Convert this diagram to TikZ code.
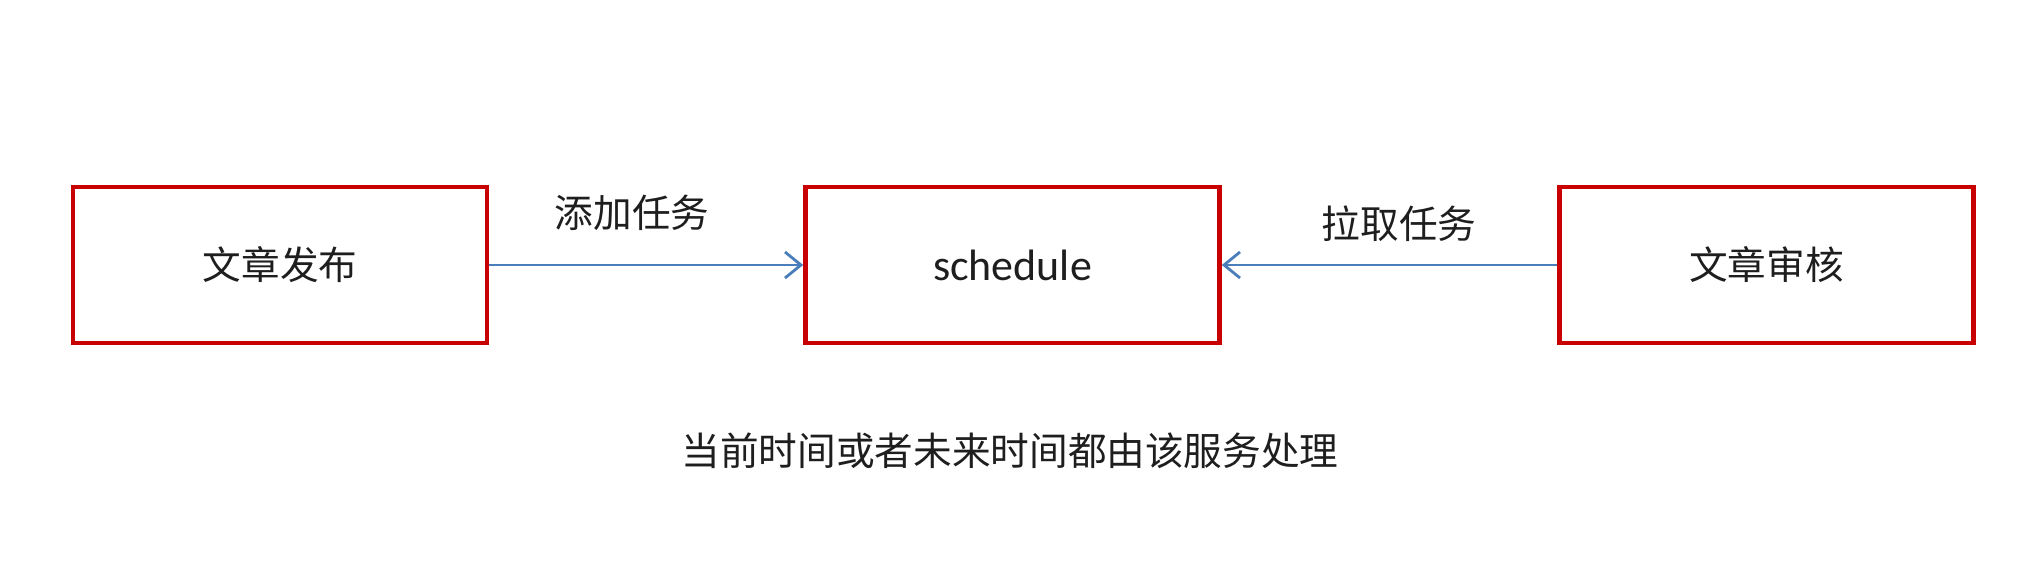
\documentclass[tikz,border=0pt]{standalone}
\usepackage{fontspec}
\setmainfont{Carlito}
\newfontfamily\cjk{Noto Sans CJK SC}
\usetikzlibrary{positioning,arrows.meta}
\definecolor{boxred}{RGB}{200,0,0}
\definecolor{arrowblue}{RGB}{74,126,187}
\definecolor{txtgray}{RGB}{30,30,30}

\begin{document}
\begin{tikzpicture}[box/.style={draw=boxred,line width=1.3pt,minimum width=4.14cm,minimum height=1.56cm,inner sep=0pt,text=txtgray,font=\fontsize{11}{13}\selectfont\cjk},
	lbl/.style={text=txtgray,inner sep=0pt,font=\fontsize{11}{13}\selectfont\cjk},
	flow/.style={draw=arrowblue,line width=0.8pt,-{Straight Barb[length=1.6mm,width=2.6mm]}}]
\useasboundingbox (0,0) rectangle (20.35,5.66);

\node[box] (pub) at (2.80,3.01) {文章发布};
\node[box,font=\fontsize{12.5}{14}\selectfont] (sch) at (10.125,3.01) {schedule};
\node[box] (rev) at (17.665,3.01) {文章审核};

\node[lbl] (add) at (6.32,3.535) {添加任务};
\node[lbl] (pull) at (13.99,3.42) {拉取任务};
\node[lbl] (note) at (10.10,1.15) {当前时间或者未来时间都由该服务处理};

\foreach \a/\b in {pub/sch,rev/sch}
	\draw[flow] (\a) -- (\b);

\end{tikzpicture}
\end{document}
